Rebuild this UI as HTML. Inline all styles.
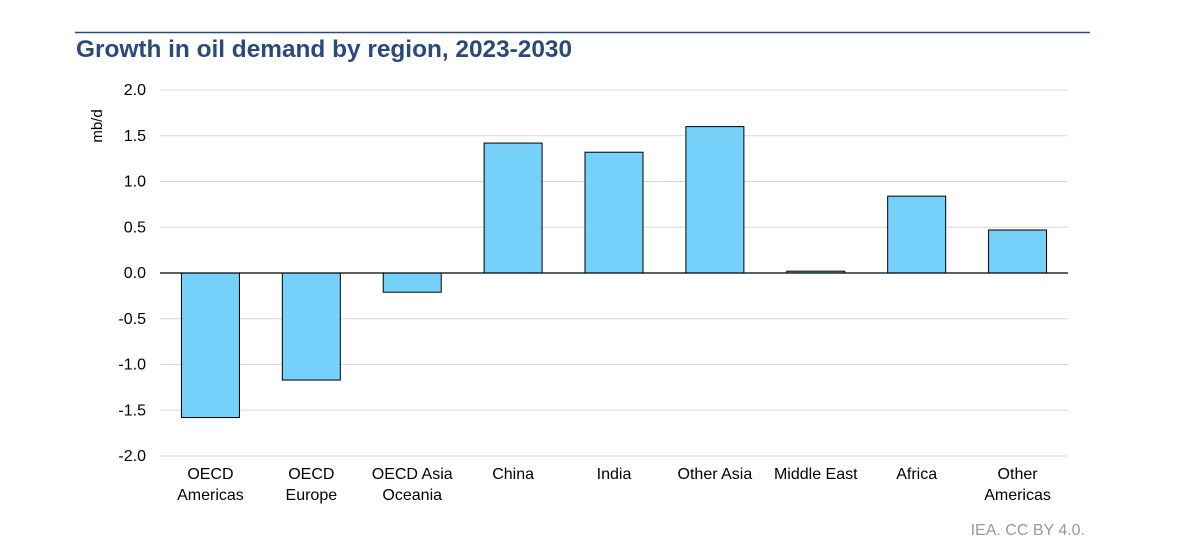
<!DOCTYPE html>
<html><head><meta charset="utf-8"><style>
body{margin:0;background:#fff;width:1200px;height:550px;overflow:hidden;font-family:"Liberation Sans",sans-serif}
</style></head><body>
<svg width="1200" height="550" style="display:block">
<line x1="75" y1="32.5" x2="1090" y2="32.5" stroke="#2b4a7a" stroke-width="1.5"/>
<text x="76" y="57" font-size="24.4" font-weight="bold" fill="#2b4a7a">Growth in oil demand by region, 2023-2030</text>
<text transform="translate(102,126) rotate(-90)" font-size="15" fill="#000" text-anchor="middle">mb/d</text>
<g id="grid"></g><g id="bars"></g><g id="xl"></g>
<text x="1085" y="535" font-size="16" fill="#999" text-anchor="end">IEA. CC BY 4.0.</text>
</svg>
<script>
const categories=[["OECD","Americas"],["OECD","Europe"],["OECD Asia","Oceania"],["China"],["India"],["Other Asia"],["Middle East"],["Africa"],["Other","Americas"]];
const values=[-1.58,-1.17,-0.21,1.42,1.32,1.60,0.02,0.84,0.47];
const ticks=[2.0,1.5,1.0,0.5,0.0,-0.5,-1.0,-1.5,-2.0];
const NS="http://www.w3.org/2000/svg";
const x0=160,x1=1068,yTop=90,yBot=456,vMax=2,vMin=-2;
const y=v=>yTop+(vMax-v)/(vMax-vMin)*(yBot-yTop);
const bw=(x1-x0)/categories.length;
const xc=i=>x0+bw*(i+0.5);
function mk(t,a,p){const e=document.createElementNS(NS,t);for(const k in a)e.setAttribute(k,a[k]);p.appendChild(e);return e;}
const g=document.getElementById('grid');
ticks.forEach(t=>{
 if(t!==0){const l=mk('line',{x1:x0,x2:x1,y1:y(t),y2:y(t),stroke:'#d9d9d9','stroke-width':1},g);
 
 }
 const tx=mk('text',{x:146,y:y(t)+5,'font-size':16,'text-anchor':'end',fill:'#000'},g);tx.textContent=t.toFixed(1);
 
 
});
const b=document.getElementById('bars');
values.forEach((v,i)=>{
 const r=mk('rect',{x:xc(i)-29,width:58,y:Math.min(y(v),y(0)),height:Math.max(1,Math.abs(y(v)-y(0))),fill:'#75d1fa',stroke:'#000','stroke-width':1},b);
 
 
});
const z=mk('line',{x1:x0,x2:x1,y1:y(0),y2:y(0),stroke:'#000','stroke-width':1.2},b);


const xl=document.getElementById('xl');
categories.forEach((c,i)=>{
 c.forEach((s,j)=>{const t=mk('text',{x:xc(i),y:479+j*21,'font-size':16,'text-anchor':'middle',fill:'#000'},xl);t.textContent=s;
 
 });
});
</script>
</body></html>
